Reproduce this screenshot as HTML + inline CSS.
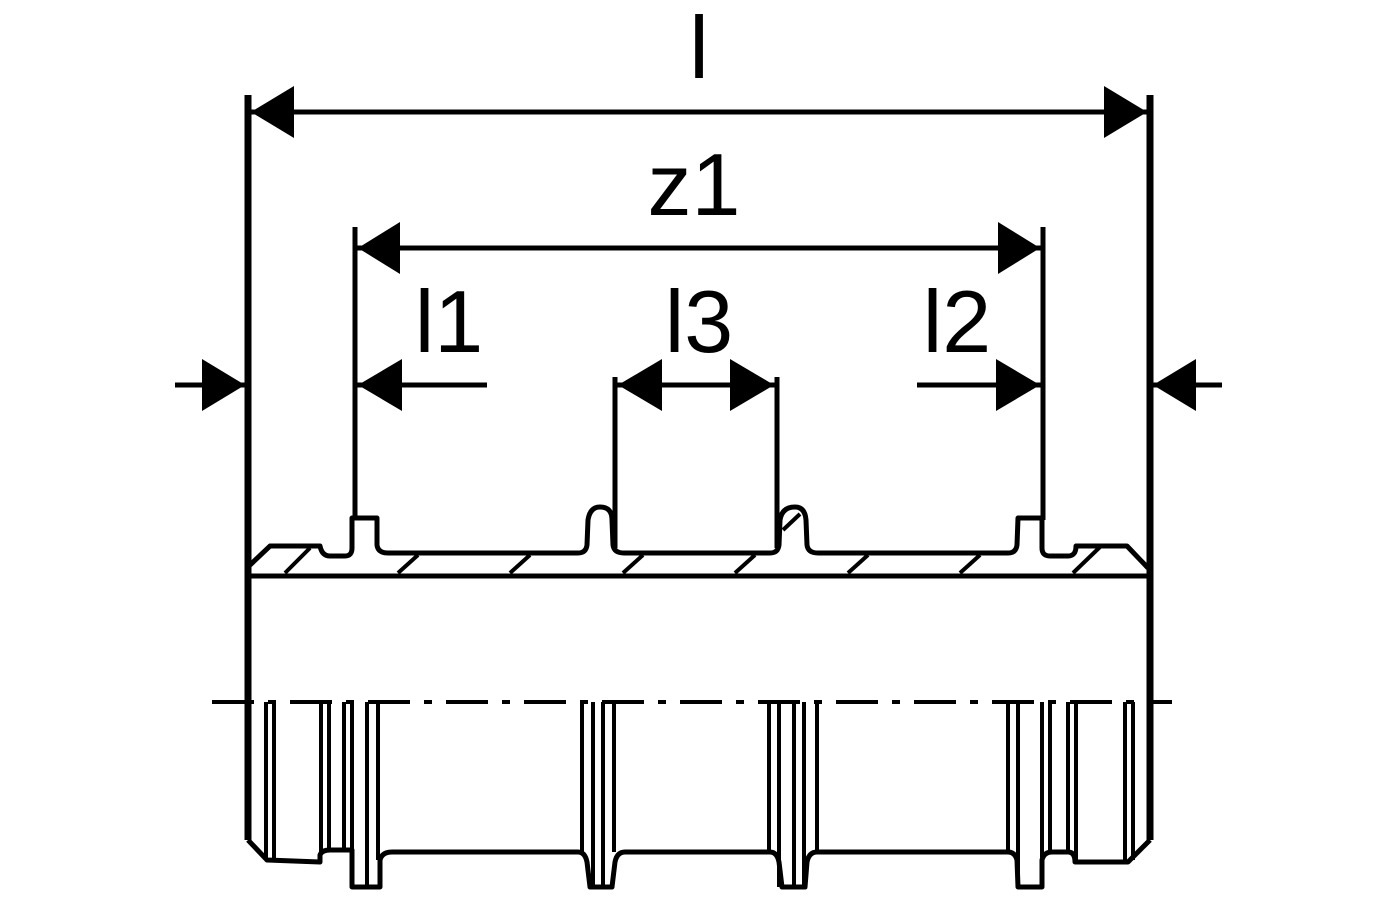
<!DOCTYPE html>
<html><head><style>
html,body{margin:0;padding:0;background:#fff;}
svg{display:block;}
text{font-family:"Liberation Sans",sans-serif;fill:#000;}
</style></head><body>
<svg width="1400" height="900" viewBox="0 0 1400 900" xmlns="http://www.w3.org/2000/svg">
<g stroke="#000" fill="none" stroke-linejoin="round">
<!-- extension lines -->
<line x1="248" y1="95" x2="248" y2="575" stroke-width="7"/>
<line x1="1150" y1="95" x2="1150" y2="575" stroke-width="7"/>
<line x1="355" y1="227" x2="355" y2="520" stroke-width="5"/>
<line x1="1043" y1="227" x2="1043" y2="520" stroke-width="5"/>
<line x1="615" y1="377" x2="615" y2="548" stroke-width="5"/>
<line x1="777" y1="377" x2="777" y2="548" stroke-width="5"/>
<!-- dim lines -->
<line x1="250" y1="112" x2="1148" y2="112" stroke-width="5"/>
<line x1="357" y1="248" x2="1041" y2="248" stroke-width="5"/>
<line x1="357" y1="385" x2="487" y2="385" stroke-width="5"/>
<line x1="917" y1="385" x2="1041" y2="385" stroke-width="5"/>
<line x1="617" y1="385" x2="775" y2="385" stroke-width="5"/>
<line x1="175" y1="385" x2="246" y2="385" stroke-width="5"/>
<line x1="1152" y1="385" x2="1222" y2="385" stroke-width="5"/>

<!-- top section profile -->
<path d="M250,565 L270,546 L320,546 Q322,556 330,556 L345,556 Q352,556 352,548 L352,518 L377,518 L377,545 Q378,553 388,553 L578,553 Q586,553 587,545 L588,520 Q590,507 600,507 Q612,507 612,520 L613,545 Q614,553 624,553 L770,553 Q778,553 779,545 L780,520 Q782,507 795,507 Q805,507 806,520 L807,545 Q808,553 818,553 L1008,553 Q1016,553 1017,545 L1018,518 L1042,518 L1042,548 Q1042,556 1050,556 L1068,556 Q1076,556 1076,546 L1127,546 L1148,568" stroke-width="5"/>
<line x1="248" y1="576" x2="1150" y2="576" stroke-width="5"/>
<!-- hatching -->
<g stroke-width="4">
<line x1="285" y1="573" x2="310" y2="548"/>
<line x1="398" y1="573" x2="418" y2="555"/>
<line x1="510" y1="573" x2="530" y2="555"/>
<line x1="623" y1="573" x2="643" y2="555"/>
<line x1="735" y1="573" x2="755" y2="555"/>
<line x1="783" y1="530" x2="800" y2="514"/>
<line x1="848" y1="573" x2="868" y2="555"/>
<line x1="960" y1="573" x2="980" y2="555"/>
<line x1="1073" y1="573" x2="1100" y2="547"/>
</g>

<!-- lower outline -->
<line x1="248" y1="575" x2="248" y2="840" stroke-width="7"/>
<line x1="1150" y1="575" x2="1150" y2="840" stroke-width="7"/>
<path d="M248,840 L267,860 L320,862 L320,855 Q322,850 330,850 L352,850 L352,887 L380,887 L380,860 Q382,852 392,852 L578,852 Q585,852 587,862 L590,887 L612,887 L615,862 Q617,852 625,852 L770,852 Q777,852 779,862 L782,887 L805,887 L807,862 Q809,852 817,852 L1008,852 Q1015,852 1017,860 L1018,887 L1042,887 L1042,860 Q1044,852 1052,852 L1068,852 Q1075,852 1075,862 L1128,862 L1150,840" stroke-width="5"/>
<g stroke-width="4">
<line x1="266" y1="702" x2="266" y2="860"/>
<line x1="274" y1="702" x2="274" y2="860"/>
<line x1="321" y1="702" x2="321" y2="855"/>
<line x1="329" y1="702" x2="329" y2="852"/>
<line x1="344" y1="702" x2="344" y2="852"/>
<line x1="352" y1="702" x2="352" y2="852"/>
<line x1="367" y1="702" x2="367" y2="887"/>
<line x1="378" y1="702" x2="378" y2="860"/>
<line x1="582" y1="702" x2="582" y2="852"/>
<line x1="593" y1="702" x2="593" y2="887"/>
<line x1="603" y1="702" x2="603" y2="887"/>
<line x1="614" y1="702" x2="614" y2="852"/>
<line x1="769" y1="702" x2="769" y2="852"/>
<line x1="779" y1="702" x2="779" y2="887"/>
<line x1="794" y1="702" x2="794" y2="887"/>
<line x1="804" y1="702" x2="804" y2="887"/>
<line x1="817" y1="702" x2="817" y2="852"/>
<line x1="1008" y1="702" x2="1008" y2="852"/>
<line x1="1018" y1="702" x2="1018" y2="887"/>
<line x1="1042" y1="702" x2="1042" y2="887"/>
<line x1="1050" y1="702" x2="1050" y2="852"/>
<line x1="1068" y1="702" x2="1068" y2="852"/>
<line x1="1076" y1="702" x2="1076" y2="862"/>
<line x1="1125" y1="702" x2="1125" y2="862"/>
<line x1="1133" y1="702" x2="1133" y2="860"/>
</g>
<!-- centerline -->
<line x1="212" y1="702" x2="1172" y2="702" stroke-width="4" stroke-dasharray="42,14,8,14"/>
</g>

<!-- arrowheads -->
<g fill="#000">
<polygon points="251,112 294,86 294,138"/>
<polygon points="1147,112 1104,86 1104,138"/>
<polygon points="358,248 400,222 400,274"/>
<polygon points="1040,248 998,222 998,274"/>
<polygon points="358,385 402,359 402,411"/>
<polygon points="1040,385 996,359 996,411"/>
<polygon points="618,385 662,359 662,411"/>
<polygon points="774,385 730,359 730,411"/>
<polygon points="245,385 202,359 202,411"/>
<polygon points="1153,385 1196,359 1196,411"/>
</g>

<!-- labels -->
<text x="699" y="78" font-size="88" text-anchor="middle">l</text>
<text x="694" y="215" font-size="88" text-anchor="middle">z1</text>
<text x="449" y="352" font-size="88" text-anchor="middle">l1</text>
<text x="699" y="352" font-size="88" text-anchor="middle">l3</text>
<text x="957" y="352" font-size="88" text-anchor="middle">l2</text>
</svg>
</body></html>
